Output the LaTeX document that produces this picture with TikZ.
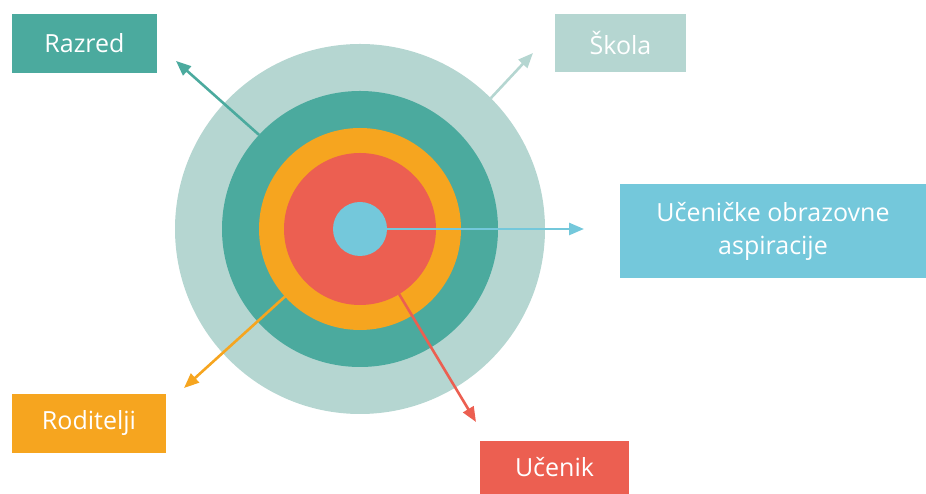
\documentclass[tikz,border=0pt]{standalone}
\usepackage{fontspec}
\setmainfont{Open Sans}
\usepackage{tikz}
\usetikzlibrary{arrows.meta}
\definecolor{skolacol}{HTML}{B5D6D1}
\definecolor{razredcol}{HTML}{4BAA9E}
\definecolor{roditeljicol}{HTML}{F6A51F}
\definecolor{ucenikcol}{HTML}{EC5F51}
\definecolor{aspircol}{HTML}{74C8DB}
\begin{document}
\begin{tikzpicture}[x=1pt,y=1pt]
\tikzstyle{ring}=[circle,inner sep=0pt,outer sep=0pt];
\tikzstyle{box}=[rectangle,inner sep=0pt,outer sep=0pt,text=white,font=\fontsize{25}{33}\selectfont,align=center];
\tikzstyle{pointer}=[line width=2.6pt,-{Triangle[length=15pt,width=12pt]}];
\useasboundingbox (0,0) rectangle (926,494);
\node [ring,fill=skolacol,minimum size=370pt] (skola) at (360,265) {};
\node [ring,fill=razredcol,minimum size=276pt] (razred) at (360,265) {};
\node [ring,fill=roditeljicol,minimum size=202pt] (roditelji) at (360,265) {};
\node [ring,fill=ucenikcol,minimum size=152pt] (ucenik) at (360,265) {};
\node [ring,fill=aspircol,minimum size=54pt] (aspir) at (360,265) {};
\node [box,fill=razredcol,minimum width=145pt,minimum height=59pt] (razredbox) at (84.5,450.5) {Razred};
\node [box,fill=skolacol,minimum width=131pt,minimum height=58pt] (skolabox) at (620.5,451) {Škola};
\node [box,fill=aspircol,minimum width=306pt,minimum height=94pt] (aspirbox) at (773,263) {Učeničke obrazovne\\aspiracije};
\node [box,fill=roditeljicol,minimum width=154pt,minimum height=59pt] (roditeljibox) at (89,70.5) {Roditelji};
\node [box,fill=ucenikcol,minimum width=149pt,minimum height=53pt] (ucenikbox) at (554.5,26.5) {Učenik};
\coordinate (razredtip) at (176,433);
\coordinate (skolatip) at (533,441);
\coordinate (aspirtip) at (584,265);
\coordinate (roditeljitip) at (184,106);
\coordinate (uceniktip) at (476,72);
\draw [pointer,razredcol] (razred.137) -- (razredtip);
\draw [pointer,skolacol] (skola.45.4) -- (skolatip);
\draw [pointer,aspircol] (aspir.0) -- (aspirtip);
\draw [pointer,roditeljicol] (roditelji.222) -- (roditeljitip);
\draw [pointer,ucenikcol] (ucenik.-59) -- (uceniktip);
\end{tikzpicture}
\end{document}
